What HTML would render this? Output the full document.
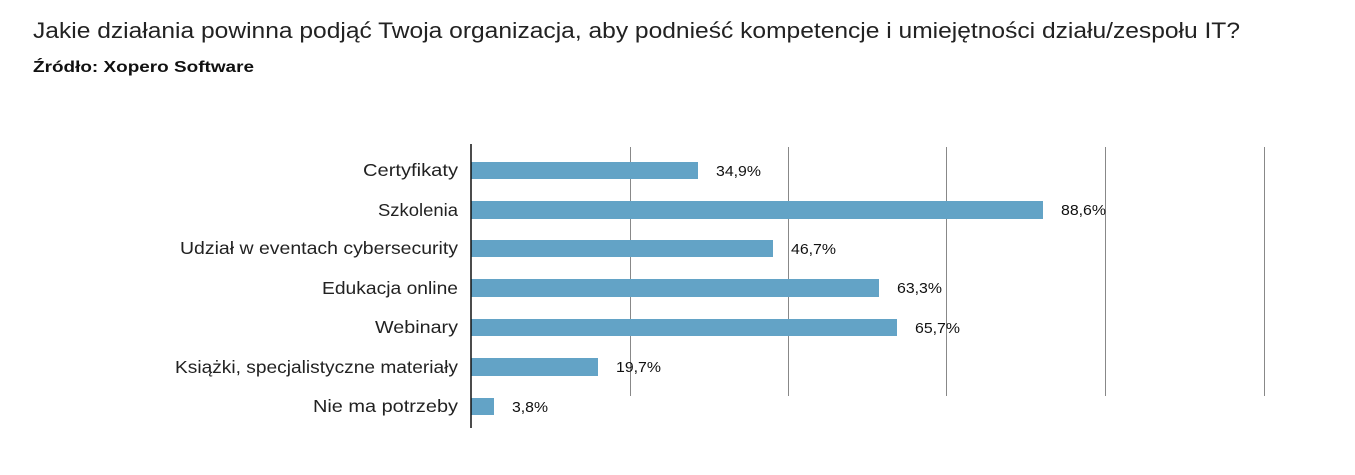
<!DOCTYPE html>
<html><head><meta charset="utf-8"><style>
body{margin:0;width:1355px;height:470px;background:#fff;overflow:hidden;font-family:"Liberation Sans","DejaVu Sans",sans-serif;}
</style></head><body>
<svg width="1355" height="470" xmlns="http://www.w3.org/2000/svg" font-family="Liberation Sans, DejaVu Sans, sans-serif">
<text x="33" y="38" font-size="22" fill="#222" textLength="1207" lengthAdjust="spacingAndGlyphs">Jakie działania powinna podjąć Twoja organizacja, aby podnieść kompetencje i umiejętności działu/zespołu IT?</text>
<text x="33" y="72" font-size="16" font-weight="bold" fill="#111" textLength="221" lengthAdjust="spacingAndGlyphs">Źródło: Xopero Software</text>
<g stroke="#888" stroke-width="1">
<line x1="630.5" y1="147" x2="630.5" y2="396"/>
<line x1="788.5" y1="147" x2="788.5" y2="396"/>
<line x1="946.5" y1="147" x2="946.5" y2="396"/>
<line x1="1105.5" y1="147" x2="1105.5" y2="396"/>
<line x1="1264.5" y1="147" x2="1264.5" y2="396"/>
</g>
<g fill="#63a3c6">
<rect x="471" y="162" width="227" height="17"/>
<rect x="471" y="201" width="572" height="18"/>
<rect x="471" y="240" width="302" height="17"/>
<rect x="471" y="279" width="408" height="18"/>
<rect x="471" y="319" width="426" height="17"/>
<rect x="471" y="358" width="127" height="18"/>
<rect x="471" y="398" width="23" height="17"/>
</g>
<line x1="471" y1="144" x2="471" y2="428" stroke="#111" stroke-width="1.5"/>
<g font-size="17.5" fill="#222" text-anchor="end" lengthAdjust="spacingAndGlyphs">
<text x="458" y="176" textLength="95" lengthAdjust="spacingAndGlyphs">Certyfikaty</text>
<text x="458" y="216" textLength="80" lengthAdjust="spacingAndGlyphs">Szkolenia</text>
<text x="458" y="254" textLength="278" lengthAdjust="spacingAndGlyphs">Udział w eventach cybersecurity</text>
<text x="458" y="294" textLength="136" lengthAdjust="spacingAndGlyphs">Edukacja online</text>
<text x="458" y="333" textLength="83" lengthAdjust="spacingAndGlyphs">Webinary</text>
<text x="458" y="373" textLength="283" lengthAdjust="spacingAndGlyphs">Książki, specjalistyczne materiały</text>
<text x="458" y="412" textLength="145" lengthAdjust="spacingAndGlyphs">Nie ma potrzeby</text>
</g>
<g font-size="14.5" fill="#111">
<text x="716" y="176" textLength="45" lengthAdjust="spacingAndGlyphs">34,9%</text>
<text x="1061" y="215" textLength="45" lengthAdjust="spacingAndGlyphs">88,6%</text>
<text x="791" y="254" textLength="45" lengthAdjust="spacingAndGlyphs">46,7%</text>
<text x="897" y="293" textLength="45" lengthAdjust="spacingAndGlyphs">63,3%</text>
<text x="915" y="333" textLength="45" lengthAdjust="spacingAndGlyphs">65,7%</text>
<text x="616" y="372" textLength="45" lengthAdjust="spacingAndGlyphs">19,7%</text>
<text x="512" y="412" textLength="36" lengthAdjust="spacingAndGlyphs">3,8%</text>
</g>
</svg>
</body></html>
